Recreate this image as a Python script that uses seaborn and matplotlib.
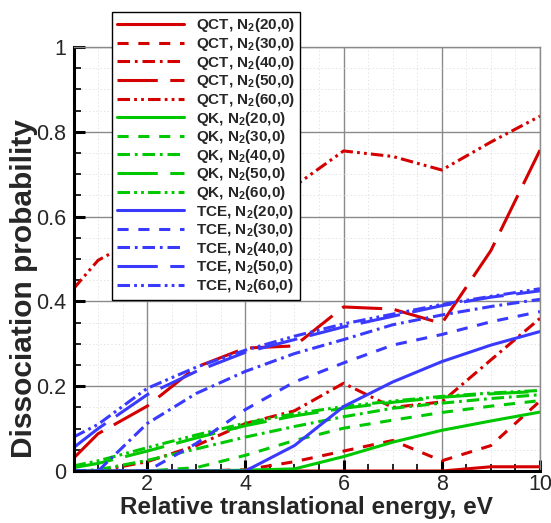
import matplotlib
matplotlib.use("Agg")
import matplotlib.pyplot as plt
import seaborn as sns
from matplotlib.ticker import MultipleLocator, FuncFormatter

sns.set_theme(style="white")
plt.rcParams['font.family'] = ['Liberation Sans', 'DejaVu Sans']
plt.rcParams['mathtext.fontset'] = 'custom'
plt.rcParams['mathtext.rm'] = 'Liberation Sans:bold'
plt.rcParams['mathtext.bf'] = 'Liberation Sans:bold'
plt.rcParams['lines.scale_dashes'] = False

# ---- data ----
energy = [0.5, 1, 2, 3, 4, 5, 6, 7, 8, 9, 10]

qct_20 = [0, 0, 0, 0, 0, 0, 0, 0, 0, 0.01, 0.01]
qct_30 = [0, 0, 0, 0, 0.003, 0.022, 0.047, 0.072, 0.024, 0.06, 0.165]
qct_40 = [0, 0, 0.022, 0.06, 0.112, 0.142, 0.207, 0.15, 0.163, 0.262, 0.36]
qct_50 = [0.03, 0.088, 0.153, 0.245, 0.29, 0.295, 0.387, 0.382, 0.348, 0.52, 0.757]
qct_60 = [0.43, 0.497, 0.56, 0.60, 0.635, 0.672, 0.755, 0.742, 0.71, 0.776, 0.837]

qk_20 = [0, 0, 0, 0, 0.002, 0.005, 0.034, 0.068, 0.096, 0.118, 0.139]
qk_30 = [0, 0, 0, 0.008, 0.037, 0.072, 0.101, 0.12, 0.138, 0.153, 0.166]
qk_40 = [0, 0.003, 0.025, 0.052, 0.08, 0.105, 0.128, 0.148, 0.16, 0.171, 0.18]
qk_50 = [0.008, 0.018, 0.047, 0.078, 0.107, 0.13, 0.148, 0.162, 0.174, 0.182, 0.188]
qk_60 = [0.012, 0.024, 0.055, 0.085, 0.113, 0.135, 0.152, 0.165, 0.176, 0.184, 0.19]

tce_20 = [0, 0, 0, 0, 0, 0.06, 0.152, 0.21, 0.258, 0.297, 0.329]
tce_30 = [0, 0, 0, 0.065, 0.145, 0.21, 0.255, 0.297, 0.322, 0.352, 0.376]
tce_40 = [0, 0, 0.112, 0.183, 0.235, 0.277, 0.31, 0.345, 0.368, 0.388, 0.405]
tce_50 = [0.055, 0.1, 0.18, 0.235, 0.28, 0.31, 0.34, 0.365, 0.39, 0.41, 0.425]
tce_60 = [0.08, 0.11, 0.195, 0.245, 0.285, 0.318, 0.347, 0.37, 0.393, 0.412, 0.43]

states = ["(20,0)", "(30,0)", "(40,0)", "(50,0)", "(60,0)"]
methods = ["QCT", "QK", "TCE"]
series = {
    "QCT": [qct_20, qct_30, qct_40, qct_50, qct_60],
    "QK": [qk_20, qk_30, qk_40, qk_50, qk_60],
    "TCE": [tce_20, tce_30, tce_40, tce_50, tce_60],
}
colors = {"QCT": "#d40000", "QK": "#00c800", "TCE": "#3a3aff"}
styles = [
    "-",
    (0, (8, 7)),
    (0, (9, 3.5, 2, 3.5)),
    (0, (29, 9)),
    (0, (9, 3, 2, 3, 2, 3)),
]

fig = plt.figure(figsize=(5.51, 5.23), dpi=100)
ax = fig.add_axes([0.1334, 0.0994, 0.8466, 0.8106])

for m in methods:
    for i, st in enumerate(states):
        sns.lineplot(x=energy, y=series[m][i], ax=ax, color=colors[m],
                     linestyle=styles[i], linewidth=2.2,
                     label=m + r", N$_{\mathbf{2}}$" + st, clip_on=True)

ax.set_xlim(0.5, 10)
ax.set_ylim(0, 1)
ax.xaxis.set_major_locator(MultipleLocator(2))
ax.xaxis.set_minor_locator(MultipleLocator(0.5))
ax.yaxis.set_major_locator(MultipleLocator(0.2))
ax.yaxis.set_minor_locator(MultipleLocator(0.05))
ax.yaxis.set_major_formatter(FuncFormatter(lambda v, p: "0" if abs(v) < 1e-9 else ("1" if abs(v - 1) < 1e-9 else f"{v:.1f}")))
ax.xaxis.set_major_formatter(FuncFormatter(lambda v, p: f"{v:g}"))

ax.grid(which="major", color="#8a8a8a", linewidth=1.0, linestyle="-")
ax.grid(which="minor", color="#dedede", linewidth=0.6, linestyle=":")
ax.set_axisbelow(True)

for s in ["top", "right"]:
    ax.spines[s].set_color("#8a8a8a")
    ax.spines[s].set_linewidth(1.0)
for s in ["left", "bottom"]:
    ax.spines[s].set_color("black")
    ax.spines[s].set_linewidth(2.2)

ax.tick_params(which="major", direction="in", length=8, width=2.2, color="black",
               labelsize=15.5, pad=5, left=True, bottom=True, top=False, right=False)
ax.tick_params(which="minor", direction="in", length=5, width=1.2, color="black",
               left=True, bottom=True, top=False, right=False)
ax.tick_params(axis="x", which="major", pad=2)

ax.set_xlabel("Relative translational energy, eV", fontsize=17.5, fontweight="bold")
ax.set_ylabel("Dissociation probability", fontsize=21.5, fontweight="bold")
ax.xaxis.set_label_coords(0.5, -0.058)
ax.yaxis.set_label_coords(-0.077, 0.43)

leg = ax.legend(loc="upper left", bbox_to_anchor=(0.083, 1.083),
                prop={"weight": "bold", "size": 11},
                frameon=True, fancybox=False, edgecolor="black", framealpha=1,
                handlelength=4.4, handletextpad=0.8, labelspacing=0.04,
                borderpad=0.3, borderaxespad=0)
leg.get_frame().set_linewidth(1.0)

fig.savefig("out.png", dpi=100)
